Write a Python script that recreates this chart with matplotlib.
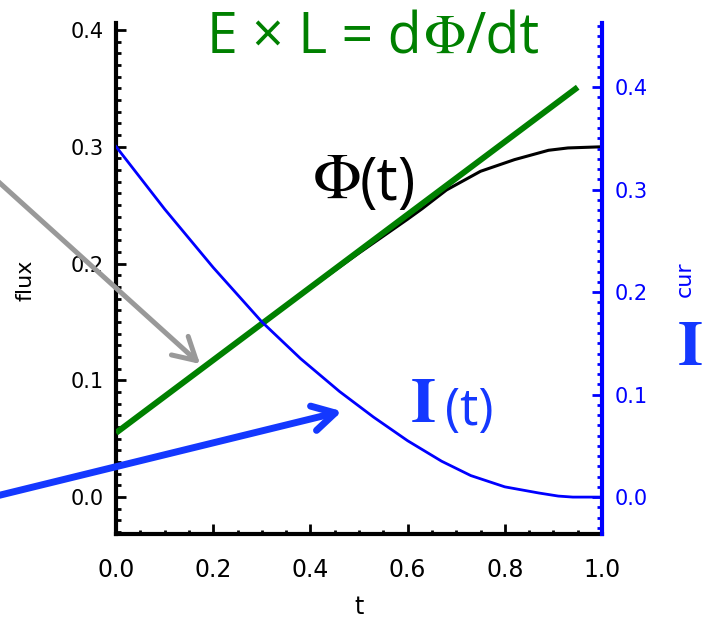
import numpy as np
import matplotlib.pyplot as plt
from matplotlib.pyplot import MultipleLocator

# flux Phi(t) (left axis)
t_flux = [0.0, 0.10, 0.20, 0.30, 0.40, 0.50, 0.60, 0.63, 0.68, 0.75, 0.82, 0.89, 0.93, 1.0]
flux = [0.055, 0.086, 0.117, 0.148, 0.179, 0.209, 0.238, 0.247, 0.263, 0.279, 0.289, 0.297, 0.299, 0.300]

# tangent line E x L = dPhi/dt
t_tan = [0.0, 0.95]
flux_tan = [0.055, 0.351]

# current I(t) (right axis)
t_cur = [0.0, 0.10, 0.20, 0.30, 0.38, 0.46, 0.53, 0.60, 0.67, 0.73, 0.80, 0.87, 0.91, 0.94, 1.0]
cur = [0.342, 0.281, 0.224, 0.171, 0.135, 0.103, 0.078, 0.055, 0.035, 0.021, 0.010, 0.004,
       0.001, 0.0, 0.0]

# arrow tips (t, flux)
gray_tip = (0.173, 0.114)
blue_tip = (0.465, 0.0735)

green = '#008000'
blue = '#0000ff'
blue2 = '#1438ff'
W, H = 704, 621

fig = plt.figure(figsize=(W / 100, H / 100), dpi=100)
ax = fig.add_axes([116 / W, (H - 534) / H, 486 / W, 511 / H])
ax2 = ax.twinx()

ax.plot(t_flux, flux, color='black', lw=2.2, zorder=2)
ax.plot(t_tan, flux_tan, color=green, lw=4.3, solid_capstyle='butt', zorder=3)
ax2.plot(t_cur, cur, color=blue, lw=2.0)

ax.set_xlim(0, 1)
ax.set_ylim(-0.0316, 0.406)
ax2.set_ylim(-0.036, 0.4625)

ax.xaxis.set_major_locator(MultipleLocator(0.2))
ax.xaxis.set_minor_locator(MultipleLocator(0.05))
ax.yaxis.set_major_locator(MultipleLocator(0.1))
ax.yaxis.set_minor_locator(MultipleLocator(0.01))
ax2.yaxis.set_major_locator(MultipleLocator(0.1))
ax2.yaxis.set_minor_locator(MultipleLocator(0.01))
ax.xaxis.set_major_formatter(plt.FormatStrFormatter('%.1f'))
ax.yaxis.set_major_formatter(plt.FormatStrFormatter('%.1f'))
ax2.yaxis.set_major_formatter(plt.FormatStrFormatter('%.1f'))

for a in (ax, ax2):
    a.spines['top'].set_visible(False)
ax.spines['right'].set_visible(False)
ax2.spines['left'].set_visible(False)
ax2.spines['bottom'].set_visible(False)
ax.spines['left'].set_linewidth(3)
ax.spines['bottom'].set_linewidth(3)
ax2.spines['right'].set_linewidth(3)
ax2.spines['right'].set_color(blue)

ax.tick_params(axis='y', which='major', direction='in', length=7, width=2, labelsize=15, pad=9)
ax.tick_params(axis='y', which='minor', direction='in', length=3.5, width=2)
ax.tick_params(axis='x', which='major', direction='in', length=7, width=2, labelsize=17, pad=17)
ax.tick_params(axis='x', which='minor', direction='in', length=3, width=2)
ax2.tick_params(axis='y', which='major', direction='in', length=7, width=2, labelsize=15, pad=9,
                colors=blue)
ax2.tick_params(axis='y', which='minor', direction='in', length=3.5, width=2, colors=blue)

ax.set_xlabel('t', fontsize=17)
ax.set_ylabel('flux', fontsize=16)
ax2.set_ylabel('cur', fontsize=16, color=blue)
ax.xaxis.set_label_coords(0.501, -0.12)
ax.yaxis.set_label_coords(-0.165, 0.497)
ax2.yaxis.set_label_coords(1.150, 0.499)

# arrows coming in from the left edge of the figure
ax2.annotate('', xy=gray_tip, xycoords=ax.transData,
             xytext=(-0.005, 1 - 180 / H), textcoords='figure fraction',
             arrowprops=dict(arrowstyle='->,head_length=0.8,head_width=0.45', mutation_scale=20,
                             color='#999999', lw=3.6, shrinkA=0, shrinkB=0))
ax2.annotate('', xy=blue_tip, xycoords=ax.transData,
             xytext=(-0.005, 1 - 496 / H), textcoords='figure fraction',
             arrowprops=dict(arrowstyle='->,head_length=0.8,head_width=0.45', mutation_scale=20,
                             color=blue2, lw=5, shrinkA=0, shrinkB=0))

def ftext(x, y, s, **kw):
    fig.text(x / W, 1 - y / H, s, ha='left', va='baseline', **kw)

# E x L = dPhi/dt
ftext(207, 53, 'E × L = d', fontsize=40, color=green, family='Open Sans')
ftext(424, 53, 'Φ', fontsize=40, color=green, family='STIXGeneral')
ftext(465, 53, '/dt', fontsize=40, color=green, family='Open Sans')

# Phi(t)
ftext(313, 198, 'Φ', fontsize=46, color='black', family='STIXGeneral')
ftext(360, 200, '(t)', fontsize=43, color='black', family='Open Sans')

# I(t)
ftext(411, 422, 'I', fontsize=46, color=blue2, family='STIXGeneral', weight='bold')
ftext(445, 425, '(t)', fontsize=37, color=blue2, family='Open Sans')

# big I by the right axis
ftext(678, 365, 'I', fontsize=46, color=blue2, family='STIXGeneral', weight='bold')

fig.savefig('out.png', dpi=100)
